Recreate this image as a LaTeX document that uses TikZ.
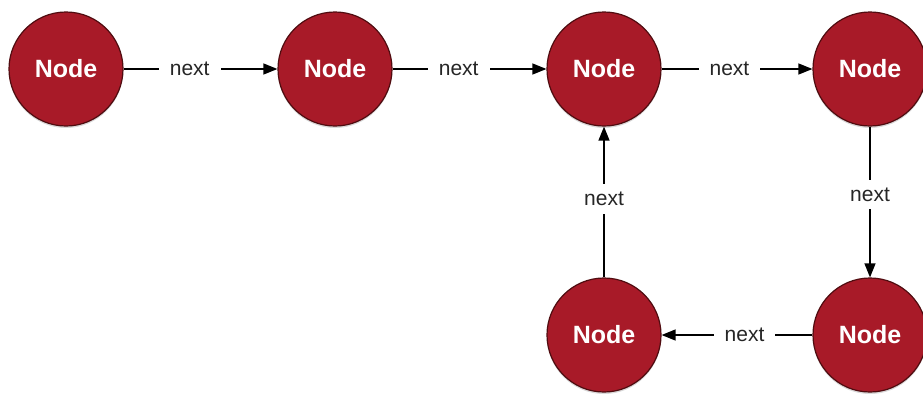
\documentclass[tikz,border=0pt]{standalone}
\usepackage{fontspec}
\setmainfont{Liberation Sans}
\usetikzlibrary{arrows.meta,shadows}
\definecolor{nodered}{RGB}{168,26,40}
\definecolor{noderim}{RGB}{80,12,16}
\begin{document}
\begin{tikzpicture}[x=1pt,y=-1pt,
  llnode/.style={circle,minimum size=114pt,inner sep=0pt,fill=nodered,draw=noderim,line width=1.2pt,
    text=white,font=\bfseries\fontsize{25}{25}\selectfont,
    drop shadow={opacity=0.3,shadow xshift=0pt,shadow yshift=-2pt}},
  link/.style={-{Triangle[length=14pt,width=11pt]},line width=1.3pt,black},
  lbl/.style={fill=white,inner xsep=11pt,inner ysep=2pt,font=\fontsize{21}{21}\selectfont,text=black!85}]
\useasboundingbox (0,0) rectangle (923,397);
\node[llnode] (n1) at (66,69) {Node};
\node[llnode] (n2) at (335,69) {Node};
\node[llnode] (n3) at (604,69) {Node};
\node[llnode] (n4) at (870,69) {Node};
\node[llnode] (n5) at (604,335) {Node};
\node[llnode] (n6) at (870,335) {Node};
\draw[link] (n1) -- node[lbl,pos=0.43] {next} (n2);
\draw[link] (n2) -- node[lbl,pos=0.43] {next} (n3);
\draw[link] (n3) -- node[lbl,pos=0.45] {next} (n4);
\draw[link] (n4) -- node[lbl,pos=0.45,inner xsep=2pt,inner ysep=8pt] {next} (n6);
\draw[link] (n6) -- node[lbl,pos=0.45] {next} (n5);
\draw[link] (n5) -- node[lbl,pos=0.52,inner xsep=2pt,inner ysep=8pt] {next} (n3);
\end{tikzpicture}
\end{document}
